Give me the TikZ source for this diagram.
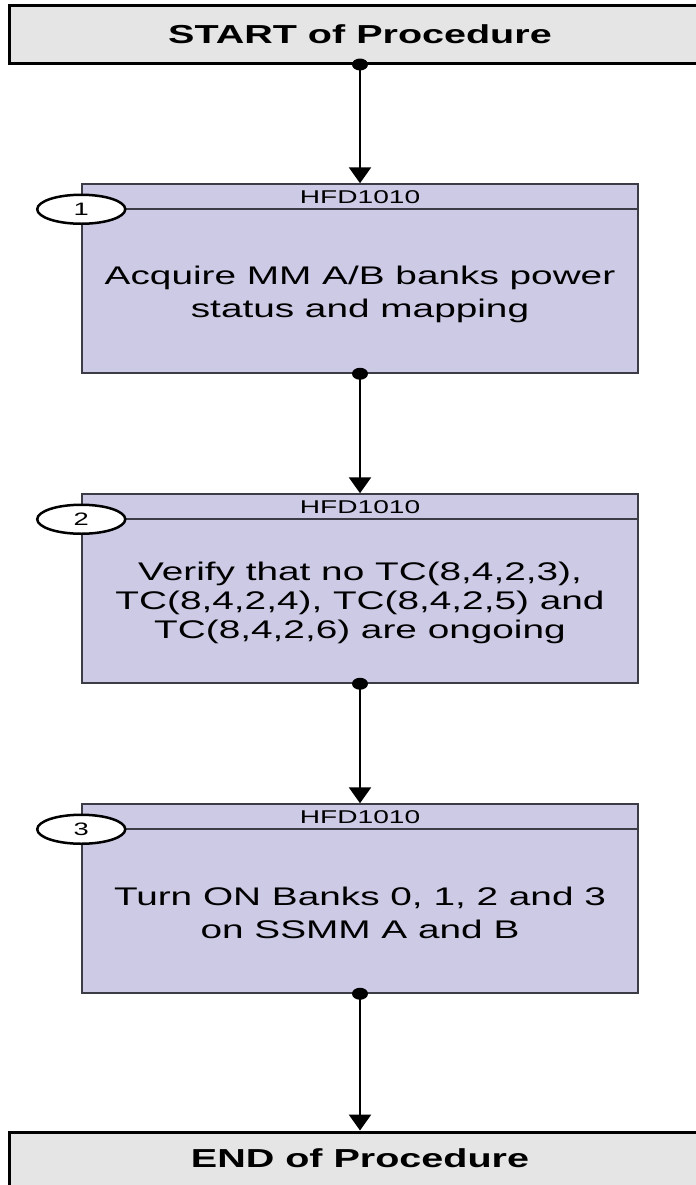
\documentclass[tikz,border=0pt]{standalone}
\usepackage{fontspec}
\setmainfont{Liberation Sans}
\newfontfamily\wfont[FakeStretch=1.52]{Liberation Sans}
\usetikzlibrary{arrows.meta,shapes.geometric,calc}
\definecolor{lav}{RGB}{204,202,229}
\definecolor{lgray}{RGB}{229,229,229}
\definecolor{bord}{RGB}{60,60,70}
\tikzset{
 endbox/.style={draw=black, line width=3bp, fill=lgray, minimum width=700bp, inner sep=0pt,
   font=\wfont\bfseries\fontsize{26bp}{30bp}\selectfont},
 stepbox/.style={draw=bord, line width=1.5bp, fill=lav, minimum width=556bp, minimum height=189bp, inner sep=0pt},
 hdr/.style={font=\wfont\fontsize{18.5bp}{20bp}\selectfont, inner sep=0pt},
 body/.style={font=\wfont\fontsize{25.5bp}{33bp}\selectfont, align=center, inner sep=0pt},
 num/.style={ellipse, draw=black, line width=2.5bp, fill=white, minimum width=88bp, minimum height=29bp,
   inner sep=0pt, font=\wfont\fontsize{18bp}{20bp}\selectfont},
 hline/.style={draw=bord, line width=2bp},
 conn/.style={line width=2.6bp, -{Triangle[width=22bp,length=16bp]}},
}
\begin{document}
\begin{tikzpicture}[x=1bp,y=-1bp]
\clip (0,0) rectangle (696,1185);
\fill[white] (0,0) rectangle (696,1185);
% start
\node[endbox, minimum height=58bp] (start) at (360,34) {START of Procedure};
% step boxes
\node[stepbox] (box1) at (360,278.5) {};
\node[stepbox] (box2) at (360,588.5) {};
\node[stepbox] (box3) at (360,898.5) {};
\foreach \b in {1,2,3}{
  \coordinate (hl\b) at ($(box\b.north west)+(0,26)$);
  \coordinate (hr\b) at ($(box\b.north east)+(0,26)$);
  \draw[hline] (hl\b) -- (hr\b);
  \node[hdr] (h\b) at ($(box\b.north)+(0,13.5)$) {HFD1010};
  \node[num] (n\b) at (hl\b) {\b};
}
\node[body] (t1) at ($(box1.north)+(0,111)$) {Acquire MM A/B banks power\\status and mapping};
\node[body, font=\wfont\fontsize{25.5bp}{29bp}\selectfont] (t2) at ($(box2.north)+(0,110)$) {Verify that no TC(8,4,2,3),\\TC(8,4,2,4), TC(8,4,2,5) and\\TC(8,4,2,6) are ongoing};
\node[body] (t3) at ($(box3.north)+(0,110)$) {Turn ON Banks 0, 1, 2 and 3\\on SSMM A and B};
% end
\node[endbox, minimum height=70bp, text height=18.5bp, text depth=18.5bp] (end) at (360,1167) {END of Procedure};
% connectors
\draw[conn] (start.south) -- (box1.north);
\draw[conn] (box1.south) -- (box2.north);
\draw[conn] (box2.south) -- (box3.north);
\draw[conn] (box3.south) -- (end.north);
\foreach \p in {start.south, box1.south, box2.south, box3.south}{
  \fill (\p) ellipse [x radius=8bp, y radius=6bp];
}
\end{tikzpicture}
\end{document}
